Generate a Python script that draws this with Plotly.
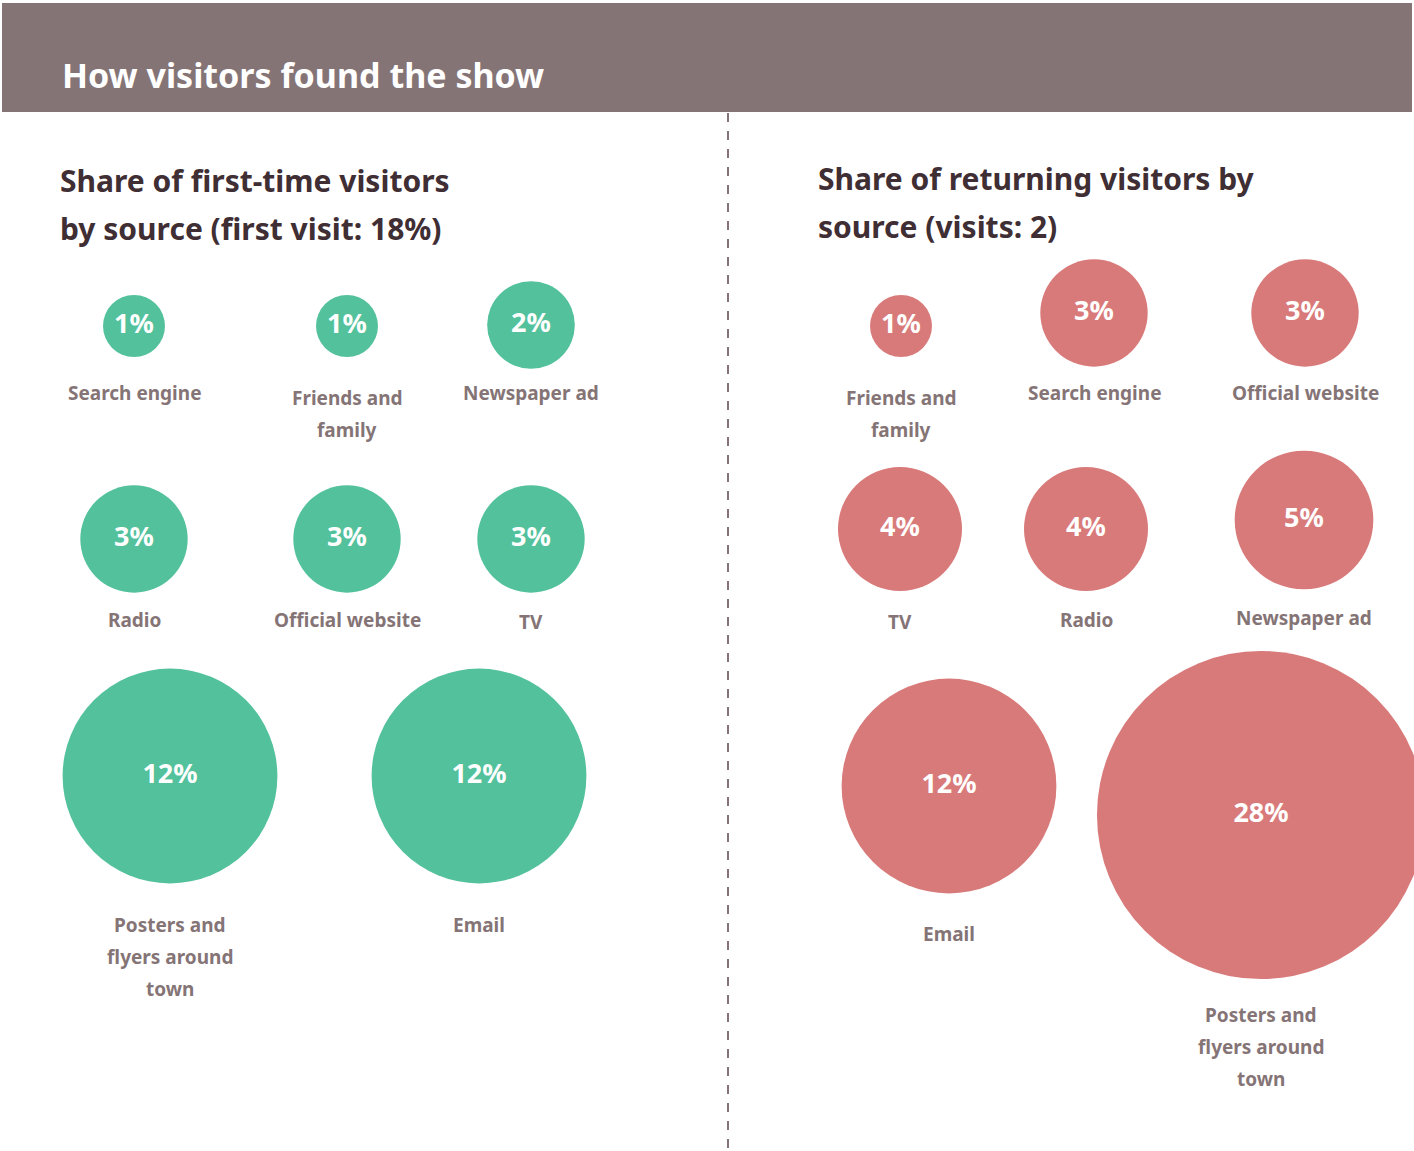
import plotly.graph_objects as go

# ---------------- data ----------------
title_text = "How visitors found the show"
left_heading = ["Share of first-time visitors", "by source (first visit: 18%)"]
right_heading = ["Share of returning visitors by", "source (visits: 2)"]

left_order = ["Search engine", "Friends and<br>family", "Newspaper ad", "Radio",
              "Official website", "TV", "Posters and<br>flyers around<br>town", "Email"]
left_values = [1, 1, 2, 3, 3, 3, 12, 12]

right_order = ["Friends and<br>family", "Search engine", "Official website", "TV",
               "Radio", "Newspaper ad", "Email", "Posters and<br>flyers around<br>town"]
right_values = [1, 3, 3, 4, 4, 5, 12, 28]

# ---------------- style / layout ----------------
W, H = 1414, 1151
HEADER = "#857476"
DARK = "#3f2e33"
LABEL = "#857476"
GREEN = "#52c19c"
RED = "#d97a7a"
FONT = "Noto Sans"
SIZEREF = 2 / 3844.0

left_pos = [(134, 326), (347, 326), (531, 325), (134, 539), (347, 539), (531, 539),
            (170, 776), (479, 776)]
left_label_y = [393, 398, 393, 620, 620, 622, 925, 925]
right_pos = [(901, 326), (1094, 313), (1305, 313), (900, 529), (1086, 529), (1304, 520),
             (949, 786), (1261, 815)]
right_label_y = [398, 393, 393, 622, 620, 618, 934, 1015]

fig = go.Figure()


def add_panel(order, values, pos, label_y, color):
    fig.add_trace(go.Scatter(
        x=[p[0] for p in pos], y=[p[1] for p in pos],
        mode="markers+text",
        marker=dict(size=values, sizemode="area", sizeref=SIZEREF, color=color,
                    line=dict(width=0), opacity=1),
        text=[f"{v}%" for v in values],
        textposition="middle center",
        textfont=dict(family=FONT, size=27, color="white", weight="bold"),
        cliponaxis=False, hoverinfo="skip", showlegend=False,
    ))
    for name, (x, _), ly in zip(order, pos, label_y):
        for i, line in enumerate(name.split("<br>")):
            fig.add_annotation(x=x, y=ly + i * 32, text=line, showarrow=False,
                               xanchor="center", yanchor="middle",
                               font=dict(family=FONT, size=19, color=LABEL, weight="bold"))


add_panel(left_order, left_values, left_pos, left_label_y, GREEN)
add_panel(right_order, right_values, right_pos, right_label_y, RED)

# header band and divider
fig.add_shape(type="rect", x0=2, x1=1412, y0=3, y1=112, fillcolor=HEADER,
              line=dict(width=0), layer="below")
fig.add_shape(type="line", x0=728, x1=728, y0=113, y1=1151,
              line=dict(color=HEADER, width=2, dash="dash"))

fig.add_annotation(x=60, y=75, text=title_text, showarrow=False, xanchor="left",
                   yanchor="middle", font=dict(family=FONT, size=34, color="white", weight="bold"))
for i, line in enumerate(left_heading):
    fig.add_annotation(x=58, y=180 + i * 48, text=line, showarrow=False, xanchor="left",
                       yanchor="middle", font=dict(family=FONT, size=30, color=DARK, weight="bold"))
for i, line in enumerate(right_heading):
    fig.add_annotation(x=816, y=178 + i * 48, text=line, showarrow=False, xanchor="left",
                       yanchor="middle", font=dict(family=FONT, size=30, color=DARK, weight="bold"))

fig.update_layout(
    width=W, height=H, margin=dict(l=0, r=0, t=0, b=0),
    paper_bgcolor="white", plot_bgcolor="white",
    xaxis=dict(range=[0, W], visible=False, fixedrange=True),
    yaxis=dict(range=[H, 0], visible=False, fixedrange=True),
)

fig.write_html("out.html", config={"displayModeBar": False},
               post_script="document.body.style.margin='0';document.body.style.overflow='hidden';")
